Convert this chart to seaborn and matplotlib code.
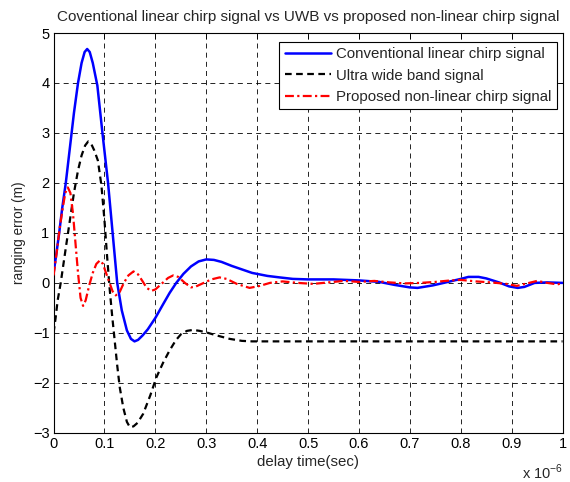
import numpy as np
import pandas as pd
import seaborn as sns
import matplotlib.pyplot as plt

# delay values are in units of 1e-6 sec (axis shows "x 10^-6")
conv_x = [0.0, 0.005, 0.011, 0.017, 0.024, 0.032, 0.04, 0.048, 0.055, 0.061, 0.066, 0.071,
          0.077, 0.086, 0.096, 0.107, 0.116, 0.125, 0.134, 0.144, 0.152, 0.159, 0.166, 0.175,
          0.185, 0.2, 0.215, 0.228, 0.241, 0.255, 0.27, 0.285, 0.3, 0.315, 0.33, 0.35, 0.37,
          0.39, 0.42, 0.444, 0.47, 0.5, 0.55, 0.6, 0.64, 0.67, 0.7, 0.715, 0.745, 0.775, 0.8,
          0.815, 0.835, 0.85, 0.875, 0.895, 0.912, 0.925, 0.945, 0.97, 1.0]
conv_y = [0.2, 0.55, 1.0, 1.5, 2.0, 2.7, 3.4, 4.0, 4.4, 4.62, 4.68, 4.62,
          4.4, 3.95, 3.0, 2.0, 1.0, 0.0, -0.55, -0.95, -1.12, -1.17, -1.14, -1.05,
          -0.93, -0.7, -0.43, -0.2, 0.0, 0.18, 0.33, 0.43, 0.47, 0.46, 0.42, 0.34, 0.27,
          0.2, 0.14, 0.11, 0.08, 0.07, 0.07, 0.05, 0.02, -0.04, -0.09, -0.1, -0.05, 0.02, 0.08,
          0.12, 0.12, 0.09, 0.01, -0.07, -0.1, -0.08, 0.0, 0.01, 0.0]

uwb_x = [0.0, 0.004, 0.008, 0.014, 0.024, 0.032, 0.04, 0.048, 0.055, 0.062, 0.068, 0.074,
         0.08, 0.087, 0.094, 0.1, 0.105, 0.11, 0.115, 0.12, 0.125, 0.13, 0.137, 0.144, 0.15,
         0.157, 0.165, 0.176, 0.19, 0.202, 0.215, 0.228, 0.24, 0.25, 0.262, 0.274, 0.287,
         0.3, 0.32, 0.346, 0.37, 0.39, 1.0]
uwb_y = [-1.0, -0.7, -0.35, 0.0, 0.7, 1.25, 1.8, 2.25, 2.55, 2.75, 2.83, 2.78,
         2.65, 2.45, 1.95, 1.25, 0.55, -0.1, -0.65, -1.15, -1.65, -2.09, -2.5, -2.78, -2.89,
         -2.87, -2.8, -2.62, -2.25, -1.89, -1.6, -1.35, -1.15, -1.03, -0.96, -0.94, -0.96,
         -0.99, -1.05, -1.12, -1.16, -1.17, -1.17]

prop_x = [0.0, 0.006, 0.012, 0.018, 0.023, 0.028, 0.033, 0.038, 0.043, 0.048, 0.053, 0.058,
          0.063, 0.07, 0.077, 0.084, 0.091, 0.097, 0.103, 0.11, 0.116, 0.122, 0.13, 0.138,
          0.147, 0.157, 0.166, 0.175, 0.183, 0.192, 0.2, 0.212, 0.225, 0.235, 0.245, 0.258,
          0.27, 0.28, 0.295, 0.31, 0.326, 0.34, 0.36, 0.385, 0.405, 0.425, 0.45, 0.48, 0.51,
          0.54, 0.57, 0.6, 0.63, 0.66, 0.69, 0.72, 0.75, 0.78, 0.8, 0.83, 0.86, 0.89, 0.91,
          0.93, 0.95, 0.97, 0.99, 1.0]
prop_y = [0.15, 0.6, 1.1, 1.5, 1.8, 1.91, 1.8, 1.4, 0.8, 0.2, -0.3, -0.46,
          -0.35, -0.05, 0.2, 0.38, 0.45, 0.38, 0.2, 0.0, -0.17, -0.25, -0.18, 0.0,
          0.15, 0.23, 0.17, 0.03, -0.1, -0.16, -0.13, -0.02, 0.1, 0.15, 0.12, 0.0,
          -0.09, -0.07, 0.0, 0.07, 0.11, 0.08, -0.02, -0.1, -0.06, 0.0, 0.03, 0.0, -0.02,
          0.01, 0.04, 0.02, 0.04, 0.01, -0.01, 0.0, 0.02, 0.05, 0.06, 0.03, 0.01, -0.02, -0.06,
          -0.01, 0.04, 0.0, -0.03, 0.0]

x_ticks = [0, 0.1, 0.2, 0.3, 0.4, 0.5, 0.6, 0.7, 0.8, 0.9, 1]
x_labels = ['0', '0.1', '0.2', '0.3', '0.4', '0.5', '0.6', '0.7', '0.8', '0.9', '1']
y_ticks = [-3, -2, -1, 0, 1, 2, 3, 4, 5]

sns.set_style("white")
plt.rcParams['font.family'] = ['Liberation Sans', 'DejaVu Sans']
plt.rcParams['mathtext.fontset'] = 'custom'
plt.rcParams['mathtext.rm'] = 'Liberation Sans'

fig = plt.figure(figsize=(5.7, 4.82), dpi=100)
ax = fig.add_axes([0.094, 0.102, 0.893, 0.8295])

df_conv = pd.DataFrame({'x': conv_x, 'y': conv_y})
df_uwb = pd.DataFrame({'x': uwb_x, 'y': uwb_y})
df_prop = pd.DataFrame({'x': prop_x, 'y': prop_y})

sns.lineplot(data=df_conv, x='x', y='y', ax=ax, color='#0000ff', linewidth=1.8,
             label='Conventional linear chirp signal', zorder=3)
sns.lineplot(data=df_uwb, x='x', y='y', ax=ax, color='black', linewidth=1.6,
             linestyle=(0, (3, 2)), label='Ultra wide band signal', zorder=3)
sns.lineplot(data=df_prop, x='x', y='y', ax=ax, color='#ff0000', linewidth=1.6,
             linestyle=(0, (4, 1.5, 1, 1.5)), label='Proposed non-linear chirp signal', zorder=3)

ax.set_xlim(0, 1)
ax.set_ylim(-3, 5)
ax.set_xticks(x_ticks)
ax.set_xticklabels(x_labels)
ax.set_yticks(y_ticks)
ax.tick_params(direction='in', top=True, right=True, length=4, width=0.6,
               labelsize=10.5, colors='black', pad=3)
ax.grid(True, color='black', linestyle=(0, (6, 5)), linewidth=0.6)
for s in ax.spines.values():
    s.set_color('black')
    s.set_linewidth(0.8)

ax.set_title('Coventional linear chirp signal vs UWB vs proposed non-linear chirp signal',
             fontsize=11, pad=9)
ax.set_xlabel('delay time(sec)', fontsize=10.8, labelpad=3)
ax.set_ylabel('ranging error (m)', fontsize=9.8, labelpad=5)
ax.text(1.0, -0.075, r'x 10$^{-6}$', transform=ax.transAxes, fontsize=10.5,
        ha='right', va='top')

leg = ax.legend(loc='upper right', bbox_to_anchor=(0.989, 0.978), borderaxespad=0,
                fontsize=10.8, frameon=True, fancybox=False,
                handlelength=3.1, labelspacing=0.5,
                borderpad=0.35, handletextpad=0.35)
leg.get_frame().set_edgecolor('black')
leg.get_frame().set_linewidth(0.8)
leg.get_frame().set_alpha(1)

fig.savefig('out.png', dpi=100, facecolor='white')
